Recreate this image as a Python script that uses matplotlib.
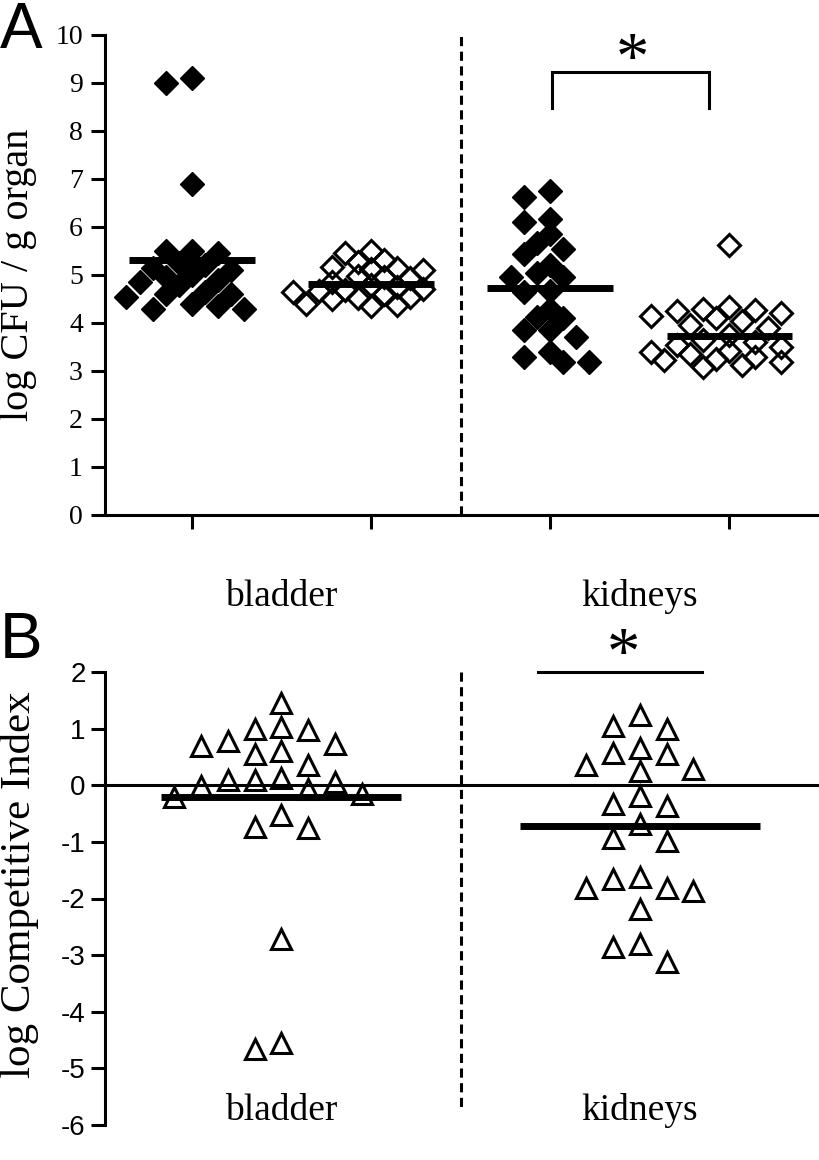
import numpy as np
import matplotlib
matplotlib.use("Agg")
import matplotlib.pyplot as plt

# ---------------- data ----------------
categories = ["bladder", "kidneys"]

# Panel A: log CFU / g organ  (filled = strain 1, open = strain 2)
bladder_filled = [9.1, 9.0, 6.9, 5.5, 5.5, 5.45, 5.25, 5.2, 5.15, 5.1, 5.0, 4.95,
                  4.9, 4.85, 4.8, 4.65, 4.6, 4.6, 4.55, 4.4, 4.35, 4.3, 4.3]
bladder_open = [5.49, 5.45, 5.31, 5.28, 5.17, 5.15, 5.12, 5.1, 4.97, 4.95, 4.93,
                4.85, 4.8, 4.75, 4.7, 4.69, 4.67, 4.65, 4.6, 4.55, 4.52, 4.5, 4.4,
                4.38, 4.36]
kidneys_filled = [6.63, 6.75, 6.1, 6.17, 5.85, 5.54, 5.67, 5.44, 5.21, 4.96, 5.04,
                  4.96, 4.65, 4.67, 4.13, 4.29, 4.1, 3.85, 3.71, 3.85, 3.29, 3.19,
                  3.4, 3.19]
kidneys_open = [5.63, 4.34, 4.3, 4.28, 4.24, 4.2, 4.15, 4.1, 4.05, 3.95, 3.9, 3.75,
                3.65, 3.61, 3.55, 3.5, 3.42, 3.4, 3.36, 3.3, 3.25, 3.23, 3.18, 3.12,
                3.09]
means_A = [5.32, 4.82, 4.72, 3.72]

# Panel B: log competitive index
ci_bladder = [1.45, 1.0, 0.97, 1.02, 0.72, 0.61, 0.55, 0.69, 0.78, 0.35, 0.1, 0.1,
              -0.01, -0.16, -0.2, -0.06, 0.05, 0.13, -0.53, -0.76, -0.73, -2.72,
              -4.65, -4.55]
ci_kidneys = [1.24, 1.0, 1.05, 0.66, 0.56, 0.57, 0.29, 0.25, 0.35, -0.19, -0.37,
              -0.33, -0.69, -0.94, -0.99, -1.65, -1.62, -1.81, -1.81, -1.87, -2.19,
              -2.8, -2.85, -3.13]
means_B = [-0.2, -0.72]

yticks_A = list(range(0, 11))
yticks_B = list(range(-6, 3))

SERIF = ["Liberation Serif", "DejaVu Serif"]
SANS = ["Liberation Sans", "DejaVu Sans"]


def swarm(values, center, step, gap, block):
    """Discrete beeswarm: a point collides with a placed one when
    |slot difference|/block + |value difference|/gap < 1."""
    values = np.asarray(values, float)
    order = np.argsort(-values, kind="stable")
    cand = [0]
    for n in range(1, 30):
        cand += [-n, n]
    placed = []
    xs = np.zeros(len(values))
    for i in order:
        v = values[i]
        for s in cand:
            if all(abs(s - ps) / block + abs(v - pv) / gap >= 1 for ps, pv in placed):
                break
        placed.append((s, v))
        xs[i] = center + s * step
    return xs


fig = plt.figure(figsize=(8.2, 11.6), dpi=100)
W, H = 820.0, 1160.0
XL = (0.515, 4.507)
LW = 2.2

# ---------------- Panel A ----------------
axA = fig.add_axes([105 / W, 1 - 515 / H, 715 / W, 480 / H])
axA.set_xlim(*XL)
axA.set_ylim(0, 10)
for s in ("top", "right"):
    axA.spines[s].set_visible(False)
for s in ("left", "bottom"):
    axA.spines[s].set_linewidth(LW)
axA.set_yticks(yticks_A)
axA.set_yticklabels([str(t) for t in yticks_A], fontfamily=SERIF, fontsize=20)
axA.set_xticks([1, 2, 3, 4])
axA.set_xticklabels([])
axA.tick_params(axis="both", direction="out", length=10, width=LW, pad=6)
axA.set_ylabel("log CFU / g organ", fontfamily=SERIF, fontsize=29)
axA.yaxis.set_label_coords(-0.095, 0.5)

groupsA = [bladder_filled, bladder_open, kidneys_filled, kidneys_open]
for k, vals in enumerate(groupsA):
    xpos = k + 1
    xs = swarm(vals, xpos, 0.073, 0.3, 2)
    if k % 2 == 0:
        axA.plot(xs, vals, "D", ms=12.5, color="black", mec="black", clip_on=False, zorder=3)
    else:
        axA.plot(xs, vals, "D", ms=11.5, mfc="none", mec="black", mew=2.2, clip_on=False, zorder=3)
    axA.plot([xpos - 0.35, xpos + 0.35], [means_A[k], means_A[k]], color="black",
             lw=5, solid_capstyle="butt", zorder=4)

axA.plot([2.5, 2.5], [0, 10], color="black", lw=2.2, ls=(0, (3, 1.8)), zorder=2)
# significance bracket
axA.plot([3.01, 3.01, 3.89, 3.89], [8.48, 9.23, 9.23, 8.48], color="black", lw=2.2,
         solid_joinstyle="miter", clip_on=False)
axA.text(3.46, 9.44, "*", fontfamily=SERIF, fontsize=48, ha="center", va="center")
for i, c in enumerate(categories):
    axA.text(1.5 + 2 * i, -1.7, c, fontfamily=SERIF, fontsize=27, ha="center", va="center")
fig.text(0.0, 1 - 31 / H, "A", fontfamily=SANS, fontsize=46, ha="left", va="center")

# ---------------- Panel B ----------------
axB = fig.add_axes([105 / W, 1 - 1125 / H, 715 / W, 453 / H])
axB.set_xlim(*XL)
axB.set_ylim(-6, 2)
for s in ("top", "right", "bottom"):
    axB.spines[s].set_visible(False)
axB.spines["left"].set_linewidth(LW)
axB.set_yticks(yticks_B)
axB.set_yticklabels([str(t) for t in yticks_B], fontfamily=SANS, fontsize=20)
axB.set_xticks([])
axB.tick_params(axis="y", direction="out", length=10, width=LW, pad=4)
axB.set_ylabel("log Competitive Index", fontfamily=SERIF, fontsize=31)
axB.yaxis.set_label_coords(-0.093, 0.53)
axB.axhline(0, color="black", lw=2.2, zorder=2)

for k, vals in enumerate([ci_bladder, ci_kidneys]):
    xpos = 1.5 + 2 * k
    xs = swarm(vals, xpos, 0.15, 0.38, 1)
    axB.plot(xs, vals, "^", ms=15, mfc="none", mec="black", mew=2.2, clip_on=False, zorder=3)
    axB.plot([xpos - 0.67, xpos + 0.67], [means_B[k], means_B[k]], color="black",
             lw=5, solid_capstyle="butt", zorder=4)

axB.plot([2.5, 2.5], [2, -5.7], color="black", lw=2.2, ls=(0, (3, 1.8)), zorder=2)
axB.plot([2.93, 3.85], [2, 2], color="black", lw=2.2, clip_on=False)
axB.text(3.41, 2.27, "*", fontfamily=SERIF, fontsize=48, ha="center", va="center")
for i, c in enumerate(categories):
    axB.text(1.5 + 2 * i, -5.75, c, fontfamily=SERIF, fontsize=27, ha="center", va="center")
fig.text(0.0, 1 - 641 / H, "B", fontfamily=SANS, fontsize=46, ha="left", va="center")

fig.savefig("out.png", dpi=100)
